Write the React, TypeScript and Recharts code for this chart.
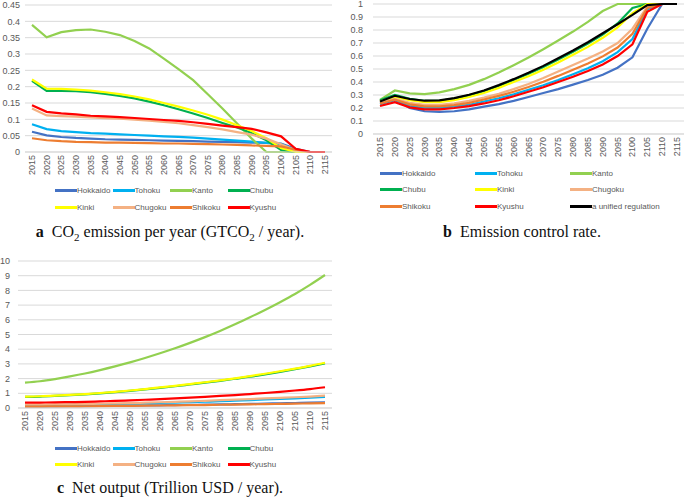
import { LineChart, Line, XAxis, YAxis, CartesianGrid } from 'recharts';

const years = ['2015', '2020', '2025', '2030', '2035', '2040', '2045', '2050', '2055', '2060', '2065',
  '2070', '2075', '2080', '2085', '2090', '2095', '2100', '2105', '2110', '2115'];

const regions = ['Hokkaido', 'Tohoku', 'Kanto', 'Chubu', 'Kinki', 'Chugoku', 'Shikoku', 'Kyushu'];
const regionColors = ['#4472C4', '#00B0F0', '#92D050', '#00B050', '#FFFF00', '#F4B183', '#ED7D31', '#FF0000'];

// a: CO2 emission per year
const co2Hokkaido = [0.062, 0.051, 0.046, 0.043, 0.041, 0.039, 0.038, 0.037, 0.036, 0.035, 0.034, 0.033, 0.032, 0.031, 0.030, 0.029, 0.028, 0.026, 0.010, 0, 0];
const co2Tohoku = [0.085, 0.070, 0.064, 0.061, 0.058, 0.056, 0.054, 0.052, 0.050, 0.048, 0.046, 0.044, 0.041, 0.038, 0.035, 0.032, 0.028, 0.024, 0.005, 0, 0];
const co2Kanto = [0.389, 0.351, 0.367, 0.373, 0.375, 0.368, 0.358, 0.340, 0.317, 0.286, 0.254, 0.220, 0.177, 0.133, 0.087, 0.041, 0, 0, 0, 0, 0];
const co2Chubu = [0.218, 0.187, 0.187, 0.186, 0.183, 0.178, 0.172, 0.164, 0.154, 0.143, 0.131, 0.118, 0.104, 0.089, 0.075, 0.058, 0.036, 0.006, 0, 0, 0];
const co2Kinki = [0.222, 0.194, 0.193, 0.191, 0.188, 0.183, 0.177, 0.170, 0.161, 0.150, 0.139, 0.127, 0.114, 0.099, 0.082, 0.064, 0.042, 0.012, 0, 0, 0];
const co2Chugoku = [0.133, 0.112, 0.110, 0.108, 0.106, 0.104, 0.102, 0.099, 0.096, 0.092, 0.088, 0.082, 0.076, 0.069, 0.061, 0.053, 0.041, 0.024, 0.005, 0, 0];
const co2Shikoku = [0.042, 0.036, 0.033, 0.031, 0.030, 0.029, 0.029, 0.028, 0.027, 0.026, 0.026, 0.025, 0.024, 0.023, 0.022, 0.020, 0.019, 0.017, 0.007, 0, 0];
const co2Kyushu = [0.143, 0.123, 0.118, 0.115, 0.111, 0.109, 0.107, 0.104, 0.101, 0.098, 0.095, 0.091, 0.086, 0.081, 0.076, 0.071, 0.060, 0.048, 0.010, 0, 0];
const co2Ticks = [0, 0.05, 0.1, 0.15, 0.2, 0.25, 0.3, 0.35, 0.4, 0.45];

// b: emission control rate
const ctrlHokkaido = [0.245, 0.27, 0.2, 0.175, 0.17, 0.175, 0.19, 0.21, 0.23, 0.255, 0.285, 0.315, 0.345, 0.38, 0.415, 0.455, 0.51, 0.59, 0.81, 1, 1];
const ctrlTohoku = [0.23, 0.26, 0.215, 0.2, 0.2, 0.21, 0.225, 0.25, 0.275, 0.305, 0.34, 0.375, 0.415, 0.46, 0.505, 0.56, 0.63, 0.73, 0.96, 1, 1];
const ctrlKanto = [0.263, 0.335, 0.312, 0.307, 0.32, 0.345, 0.378, 0.422, 0.473, 0.529, 0.588, 0.652, 0.719, 0.788, 0.862, 0.946, 1, 1, 1, 1, 1];
const ctrlChubu = [0.26, 0.3, 0.27, 0.255, 0.255, 0.272, 0.297, 0.33, 0.37, 0.415, 0.463, 0.515, 0.572, 0.632, 0.695, 0.765, 0.85, 0.97, 1, 1, 1];
const ctrlKinki = [0.25, 0.285, 0.26, 0.245, 0.245, 0.26, 0.285, 0.315, 0.355, 0.4, 0.445, 0.495, 0.55, 0.61, 0.67, 0.74, 0.82, 0.93, 1, 1, 1];
const ctrlChugoku = [0.24, 0.27, 0.24, 0.225, 0.225, 0.235, 0.255, 0.28, 0.31, 0.345, 0.385, 0.43, 0.48, 0.53, 0.58, 0.635, 0.7, 0.81, 0.98, 1, 1];
const ctrlShikoku = [0.235, 0.265, 0.228, 0.213, 0.213, 0.222, 0.24, 0.265, 0.293, 0.325, 0.362, 0.402, 0.447, 0.495, 0.543, 0.597, 0.665, 0.77, 0.97, 1, 1];
const ctrlKyushu = [0.215, 0.245, 0.205, 0.19, 0.19, 0.2, 0.215, 0.235, 0.26, 0.29, 0.325, 0.36, 0.4, 0.44, 0.485, 0.535, 0.6, 0.69, 0.94, 1, 1];
const ctrlUnified = [0.25, 0.294, 0.269, 0.256, 0.258, 0.276, 0.302, 0.335, 0.376, 0.422, 0.471, 0.524, 0.583, 0.642, 0.706, 0.775, 0.844, 0.916, 0.992, 1, 1];
const ctrlTicks = [0, 0.1, 0.2, 0.3, 0.4, 0.5, 0.6, 0.7, 0.8, 0.9, 1];

// c: net output
const outHokkaido = [0.1, 0.1, 0.11, 0.12, 0.13, 0.14, 0.15, 0.16, 0.17, 0.18, 0.2, 0.21, 0.23, 0.24, 0.26, 0.28, 0.3, 0.32, 0.34, 0.36, 0.39];
const outTohoku = [0.18, 0.19, 0.2, 0.21, 0.23, 0.25, 0.27, 0.29, 0.31, 0.34, 0.37, 0.4, 0.43, 0.46, 0.5, 0.54, 0.58, 0.62, 0.66, 0.7, 0.75];
const outKanto = [1.73, 1.82, 1.97, 2.15, 2.35, 2.58, 2.83, 3.1, 3.4, 3.72, 4.06, 4.43, 4.82, 5.24, 5.69, 6.17, 6.67, 7.2, 7.76, 8.38, 9.05];
const outChubu = [0.76, 0.78, 0.82, 0.87, 0.93, 1.0, 1.08, 1.17, 1.27, 1.37, 1.48, 1.6, 1.72, 1.85, 1.99, 2.13, 2.29, 2.46, 2.64, 2.83, 3.03];
const outKinki = [0.78, 0.8, 0.84, 0.89, 0.95, 1.02, 1.1, 1.19, 1.29, 1.4, 1.51, 1.63, 1.75, 1.88, 2.02, 2.17, 2.33, 2.5, 2.68, 2.87, 3.08];
const outChugoku = [0.22, 0.23, 0.24, 0.25, 0.27, 0.29, 0.31, 0.33, 0.36, 0.39, 0.42, 0.45, 0.49, 0.53, 0.57, 0.61, 0.65, 0.69, 0.73, 0.78, 0.84];
const outShikoku = [0.1, 0.1, 0.11, 0.11, 0.12, 0.13, 0.14, 0.15, 0.16, 0.17, 0.18, 0.19, 0.2, 0.22, 0.23, 0.25, 0.26, 0.28, 0.3, 0.31, 0.33];
const outKyushu = [0.36, 0.37, 0.38, 0.4, 0.42, 0.45, 0.48, 0.52, 0.56, 0.6, 0.65, 0.7, 0.76, 0.82, 0.88, 0.95, 1.02, 1.1, 1.19, 1.29, 1.41];
const outTicks = [0, 1, 2, 3, 4, 5, 6, 7, 8, 9, 10];

const co2Series = [co2Hokkaido, co2Tohoku, co2Kanto, co2Chubu, co2Kinki, co2Chugoku, co2Shikoku, co2Kyushu];
const ctrlSeries = [ctrlHokkaido, ctrlTohoku, ctrlKanto, ctrlChubu, ctrlKinki, ctrlChugoku, ctrlShikoku, ctrlKyushu, ctrlUnified];
const outSeries = [outHokkaido, outTohoku, outKanto, outChubu, outKinki, outChugoku, outShikoku, outKyushu];

const ctrlNames = [...regions, 'a unified regulation'];
const ctrlColors = [...regionColors, '#000000'];

const sans = '"Liberation Sans", Arial, sans-serif';
const serif = '"Liberation Serif", "Times New Roman", serif';

function buildRows(names: string[], series: number[][]) {
  return years.map((year, i) => {
    const row: any = { year };
    names.forEach((n, k) => { row[n] = series[k][i]; });
    return row;
  });
}

const YearTick = (props: any) => {
  const { x, y, payload } = props;
  return (
    <text x={x} y={y} dy={3} transform={`rotate(-90 ${x} ${y})`} textAnchor="end"
      fontSize={9} fill="#595959" fontFamily={sans}>
      {payload.value}
    </text>
  );
};

type PanelProps = {
  left: number, top: number, width: number, height: number,
  names: string[], colors: string[], series: number[][],
  ticks: number[], margin: any, yWidth: number, yTickMargin: number, xHeight: number,
  curve: 'linear' | 'monotone'
}

function Panel(p: PanelProps) {
  const data = buildRows(p.names, p.series);
  return (
    <div style={{ position: 'absolute', left: p.left, top: p.top }}>
      <LineChart width={p.width} height={p.height} data={data} margin={p.margin}>
        <CartesianGrid vertical={false} stroke="#d9d9d9" />
        <XAxis dataKey="year" interval={0} tick={<YearTick />} tickLine={false} tickSize={0} tickMargin={3}
          axisLine={{ stroke: '#d9d9d9' }} height={p.xHeight} padding={{ left: 7, right: 7 }} />
        <YAxis domain={[p.ticks[0], p.ticks[p.ticks.length - 1]]} ticks={p.ticks} interval={0}
          axisLine={false} tickLine={false} tickSize={0} tickMargin={p.yTickMargin} width={p.yWidth}
          tick={{ fontSize: 9, fill: '#595959', fontFamily: sans }} />
        {p.names.map((n, k) => (
          <Line key={n} type={p.curve} dataKey={n} stroke={p.colors[k]} strokeWidth={2.2}
            dot={false} isAnimationActive={false} />
        ))}
      </LineChart>
    </div>
  );
}

function LegendBox({ left, top, cols, colWidth, rowHeight, names, colors }:
  { left: number, top: number, cols: number, colWidth: number, rowHeight: number, names: string[], colors: string[] }) {
  return (
    <div style={{ position: 'absolute', left, top }}>
      {names.map((n, k) => (
        <div key={n} style={{
          position: 'absolute', left: (k % cols) * colWidth, top: Math.floor(k / cols) * rowHeight,
          display: 'flex', alignItems: 'center', whiteSpace: 'nowrap', height: 12,
          fontFamily: sans, fontSize: 8, color: '#595959'
        }}>
          <span style={{ display: 'inline-block', width: 22, height: 3, background: colors[k] }} />
          <span>{n}</span>
        </div>
      ))}
    </div>
  );
}

function Caption({ cx, top, tag, children }: { cx: number, top: number, tag: string, children: any }) {
  return (
    <div style={{
      position: 'absolute', left: cx - 200, width: 400, top, textAlign: 'center', lineHeight: '18px',
      fontFamily: serif, fontSize: 16, color: '#111', whiteSpace: 'nowrap'
    }}>
      <b>{tag}</b>&nbsp;&nbsp;{children}
    </div>
  );
}

export default function App() {
  return (
    <div style={{ position: 'absolute', left: 0, top: 0, width: 685, height: 498, background: '#fff', overflow: 'hidden' }}>
      <Panel left={0} top={0} width={340} height={180} names={regions} colors={regionColors} series={co2Series}
        ticks={co2Ticks} margin={{ top: 5, right: 8, bottom: 2, left: 3 }} yWidth={22} yTickMargin={5}
        xHeight={26} curve="linear" />
      <LegendBox left={55} top={184} cols={4} colWidth={57.5} rowHeight={17} names={regions} colors={regionColors} />
      <Caption cx={170} top={223} tag="a">
        CO<sub style={{ fontSize: 11, lineHeight: 0 }}>2</sub> emission per year (GTCO<sub style={{ fontSize: 11, lineHeight: 0 }}>2</sub> / year).
      </Caption>

      <Panel left={340} top={0} width={345} height={162} names={ctrlNames} colors={ctrlColors} series={ctrlSeries}
        ticks={ctrlTicks} margin={{ top: 4, right: 1, bottom: 0, left: 0 }} yWidth={33} yTickMargin={10}
        xHeight={28} curve="linear" />
      <LegendBox left={380} top={167} cols={3} colWidth={95} rowHeight={16.5} names={ctrlNames} colors={ctrlColors} />
      <Caption cx={522} top={223} tag="b">Emission control rate.</Caption>

      <Panel left={0} top={256} width={340} height={180} names={regions} colors={regionColors} series={outSeries}
        ticks={outTicks} margin={{ top: 5, right: 8, bottom: 0, left: 0 }} yWidth={18} yTickMargin={8}
        xHeight={28} curve="monotone" />
      <LegendBox left={55} top={442} cols={4} colWidth={57.5} rowHeight={16.5} names={regions} colors={regionColors} />
      <Caption cx={170} top={479} tag="c">Net output (Trillion USD / year).</Caption>
    </div>
  );
}
